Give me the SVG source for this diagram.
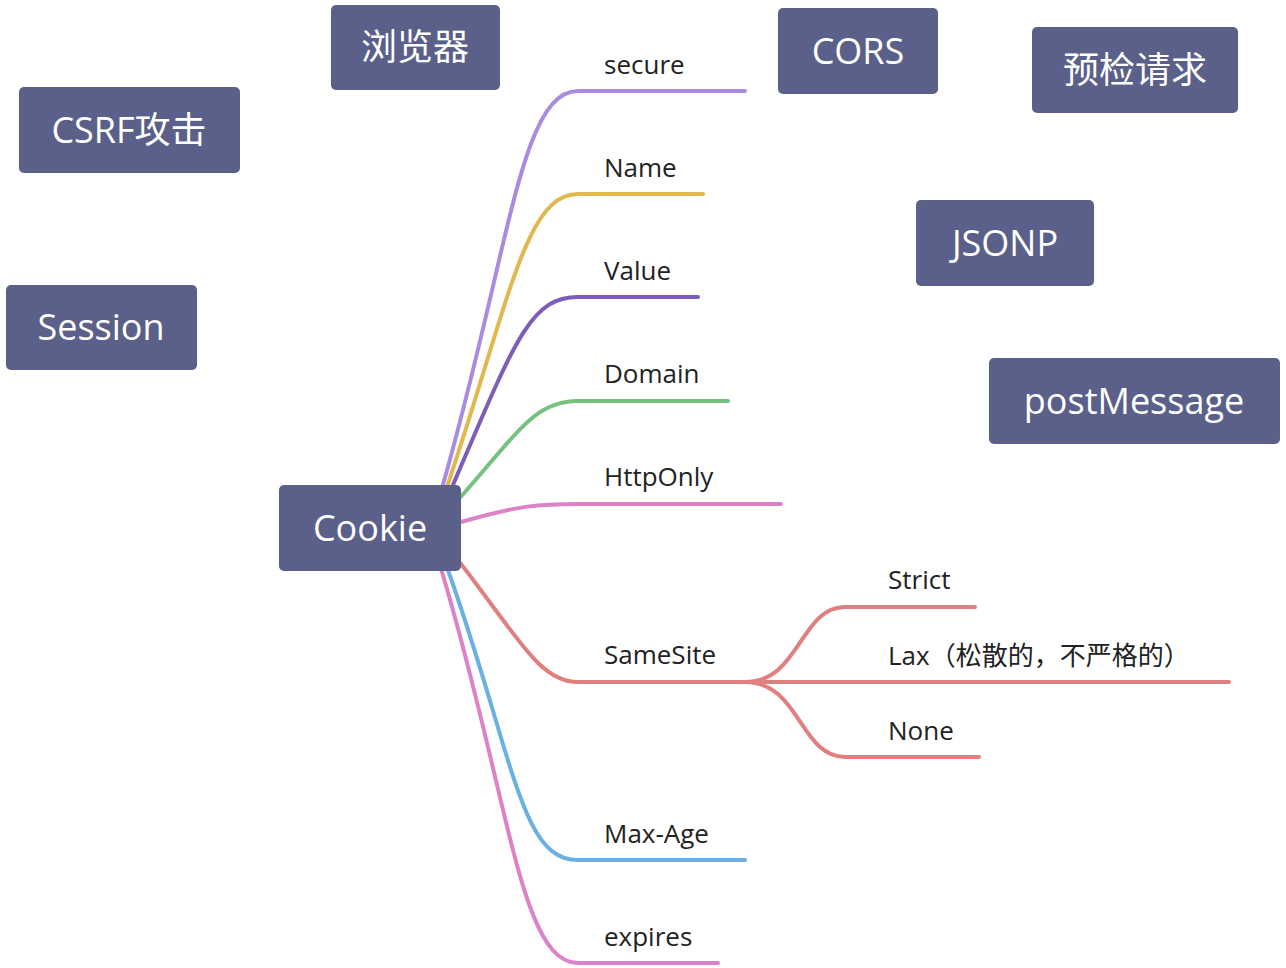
<svg xmlns="http://www.w3.org/2000/svg" width="1286" height="968" viewBox="0 0 1286 968">
<style>
.box{fill:#5a6089;}
.bt{fill:#fff;font-family:"Open Sans","Noto Sans CJK SC",sans-serif;font-size:36px;text-anchor:middle;dominant-baseline:central;}
.lb{fill:#222;font-family:"Open Sans","Noto Sans CJK SC",sans-serif;font-size:26px;}
.c{fill:none;stroke-width:4;stroke-linecap:round;}
</style>
<rect width="1286" height="968" fill="#fff"/>
<g id="connectors">
<path class="c" stroke="#a98be0" d="M442,488 C510,250 520,91 578,91 H745"/>
<path class="c" stroke="#e0b84f" d="M446,490 C510,300 525,194 578,194 H703"/>
<path class="c" stroke="#7d5cba" d="M450,492 C515,340 530,297 578,297 H698"/>
<path class="c" stroke="#77c17f" d="M458,500 C520,430 535,401 578,401 H728"/>
<path class="c" stroke="#dc82c8" d="M461,522 C520,505 540,504 578,504 H781"/>
<path class="c" stroke="#e07f7f" d="M458,560 C520,640 540,682 578,682 H745"/>
<path class="c" stroke="#6ab0e2" d="M448,570 C515,760 520,860 578,860 H745"/>
<path class="c" stroke="#dc82c8" d="M442,572 C510,800 520,963 578,963 H718"/>
<path class="c" stroke="#e07f7f" d="M745,682 C800,682 800,607 845,607 H975"/>
<path class="c" stroke="#e07f7f" d="M745,682 H1229"/>
<path class="c" stroke="#e07f7f" d="M745,682 C800,682 800,757 845,757 H979"/>
</g>
<g id="labels">
<text class="lb" x="604" y="74">secure</text>
<text class="lb" x="604" y="177">Name</text>
<text class="lb" x="604" y="280">Value</text>
<text class="lb" x="604" y="383">Domain</text>
<text class="lb" x="604" y="486">HttpOnly</text>
<text class="lb" x="604" y="664">SameSite</text>
<text class="lb" x="604" y="843">Max-Age</text>
<text class="lb" x="604" y="946">expires</text>
<text class="lb" x="888" y="589">Strict</text>
<text class="lb" x="888" y="665">Lax（松散的，不严格的）</text>
<text class="lb" x="888" y="740">None</text>
</g>
<g id="cookie"><rect class="box" x="279" y="485" width="182" height="86" rx="5"/><text class="bt" x="370" y="527">Cookie</text></g>
<g id="browser"><rect class="box" x="331" y="5" width="169" height="85" rx="5"/><text class="bt" x="415" y="46">浏览器</text></g>
<g id="csrf"><rect class="box" x="19" y="87" width="221" height="86" rx="5"/><text class="bt" x="129" y="129">CSRF攻击</text></g>
<g id="session"><rect class="box" x="6" y="285" width="191" height="85" rx="5"/><text class="bt" x="101" y="326">Session</text></g>
<g id="cors"><rect class="box" x="778" y="8" width="160" height="86" rx="5"/><text class="bt" x="858" y="50">CORS</text></g>
<g id="preflight"><rect class="box" x="1032" y="27" width="206" height="86" rx="5"/><text class="bt" x="1135" y="69">预检请求</text></g>
<g id="jsonp"><rect class="box" x="916" y="200" width="178" height="86" rx="5"/><text class="bt" x="1005" y="242">JSONP</text></g>
<g id="postmessage"><rect class="box" x="989" y="358" width="291" height="86" rx="5"/><text class="bt" x="1134" y="400">postMessage</text></g>
</svg>
